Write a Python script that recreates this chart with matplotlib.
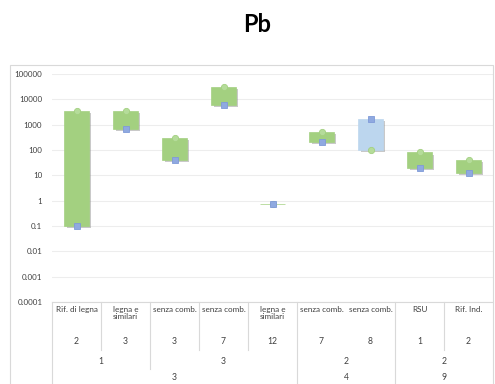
import matplotlib
matplotlib.use("Agg")
import matplotlib.pyplot as plt
import matplotlib.transforms as mtransforms
import matplotlib.patheffects as pe
from matplotlib.patches import Rectangle
from matplotlib.lines import Line2D
import numpy as np

# ---- data ----
categories = ["Rif. di legna", "legna e\nsimilari", "senza comb.", "senza comb.",
              "legna e\nsimilari", "senza comb.", "senza comb.", "RSU", "Rif. Ind."]
level1 = ["2", "3", "3", "7", "12", "7", "8", "1", "2"]
level2_labels = ["1", "3", "2", "2"]
level2_spans = [2, 3, 2, 2]
level3_labels = ["3", "4", "9"]
level3_spans = [5, 2, 2]
circle_vals = [3500, 3500, 300, 30000, 0.76, 500, 100, 80, 40]
square_vals = [0.1, 700, 40, 6000, 0.75, 200, 1700, 20, 12]
yticks = [1e-4, 1e-3, 1e-2, 1e-1, 1, 10, 100, 1000, 10000, 100000]
ytick_labels = ["0.0001", "0.001", "0.01", "0.1", "1", "10", "100", "1000", "10000", "100000"]

W, H = 495, 384
fig = plt.figure(figsize=(W / 100, H / 100), dpi=100)
plt.rcParams['font.family'] = ['Lato', 'DejaVu Sans']

def fx(px):
    return px / W

def fy(py):
    return 1 - py / H

# chart area border
fig.patches.append(Rectangle((fx(10), fy(390)), fx(483), (390 - 65) / H,
                             transform=fig.transFigure, fill=False,
                             edgecolor="#d9d9d9", linewidth=0.8))

ax_left, ax_right = 52, 493
ax_top, ax_bot = 74, 302
ax = fig.add_axes([fx(ax_left), fy(ax_bot), fx(ax_right - ax_left), (ax_bot - ax_top) / H])
ax.set_yscale("log")
ax.set_ylim(1e-4, 1e5)
n = len(categories)
ax.set_xlim(-0.5, n - 0.5)
ax.set_yticks(yticks)
ax.set_yticklabels(ytick_labels)
ax.yaxis.set_minor_locator(matplotlib.ticker.NullLocator())
ax.tick_params(axis="y", length=0, pad=7, labelsize=5.8, labelcolor="#404040")
ax.set_xticks([])
for s in ["left", "right", "top"]:
    ax.spines[s].set_visible(False)
ax.spines["bottom"].set_color("#d9d9d9")
ax.spines["bottom"].set_linewidth(0.8)
ax.grid(axis="y", color="#ededed", linewidth=0.8)
ax.set_axisbelow(True)

green = "#a3d080"
blue = "#bcd6ee"
x = np.arange(n)
bw = 0.49
shadow = [pe.SimplePatchShadow(offset=(1.5, -1.5), shadow_rgbFace="#888888", alpha=0.45), pe.Normal()]
for i in range(n):
    lo = min(circle_vals[i], square_vals[i])
    hi = max(circle_vals[i], square_vals[i])
    col = green if circle_vals[i] >= square_vals[i] else blue
    b = ax.bar(x[i], hi - lo, bottom=lo, width=bw, color=col, edgecolor=col,
               linewidth=0.5, zorder=2)
    for p in b:
        p.set_path_effects(shadow)

ax.plot(x, circle_vals, linestyle="none", marker="o", markersize=4.5,
        markerfacecolor="#b5dc9a", markeredgecolor="#a3d080", markeredgewidth=0.6, zorder=3)
ax.plot(x, square_vals, linestyle="none", marker="s", markersize=4.5,
        markerfacecolor="#8fa9e0", markeredgecolor="#7f9ad8", markeredgewidth=0.6, zorder=3)

fig.text(fx(257), fy(25), "Pb", ha="center", va="center", fontsize=17,
         fontweight="bold", color="#000000")

# ---- multi-level category table ----
trans = mtransforms.blended_transform_factory(ax.transData, fig.transFigure)
txtc = "#404040"
fs = 5.9
for i in range(n):
    fig.text(x[i], fy(306), categories[i], transform=trans, ha="center", va="top",
             fontsize=fs, color=txtc, linespacing=1.0)
    fig.text(x[i], fy(341), level1[i], transform=trans, ha="center", va="center",
             fontsize=fs + 0.3, color=txtc)

start = 0
for lab, sp in zip(level2_labels, level2_spans):
    c = start + (sp - 1) / 2
    fig.text(c, fy(361), lab, transform=trans, ha="center", va="center",
             fontsize=fs + 0.3, color=txtc)
    start += sp
start = 0
for lab, sp in zip(level3_labels, level3_spans):
    c = start + (sp - 1) / 2
    fig.text(c, fy(378), lab, transform=trans, ha="center", va="center",
             fontsize=fs + 0.3, color=txtc)
    start += sp

def group_index(spans):
    idx = []
    for g, sp in enumerate(spans):
        idx += [g] * sp
    return idx

g2 = group_index(level2_spans)
g3 = group_index(level3_spans)
linec = "#d9d9d9"
fig.add_artist(Line2D([-0.5, -0.5], [fy(302), fy(390)], transform=trans, color=linec, linewidth=0.8))
for i in range(n - 1):
    xb = i + 0.5
    if g3[i] != g3[i + 1]:
        yb = 390
    elif g2[i] != g2[i + 1]:
        yb = 369
    else:
        if i == 5:
            continue
        yb = 350
    fig.add_artist(Line2D([xb, xb], [fy(302), fy(yb)], transform=trans,
                          color=linec, linewidth=0.8))

fig.savefig("out.png", dpi=100)
